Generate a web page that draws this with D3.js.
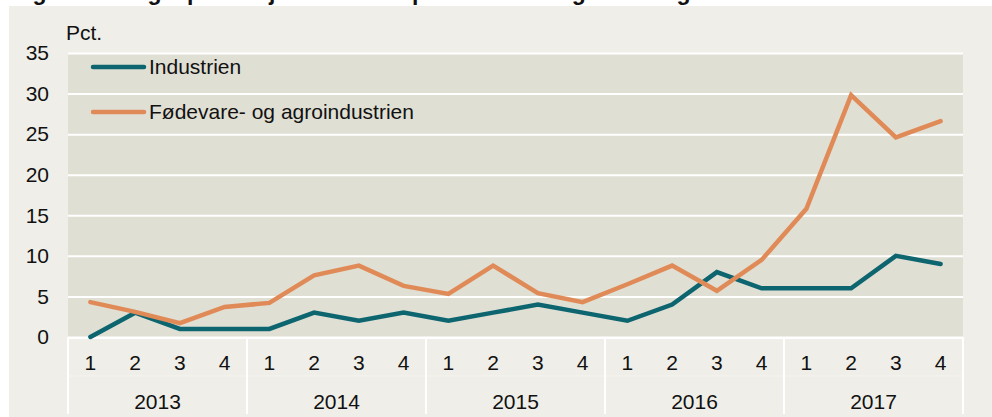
<!DOCTYPE html>
<html>
<head>
<meta charset="utf-8">
<script src="https://cdn.jsdelivr.net/npm/d3@7"></script>
<style>
body{margin:0;background:#fff;}
svg{display:block;font-family:"Liberation Sans",Arial,sans-serif;}
</style>
</head>
<body>
<div id="chart"></div>
<script>
// data
var years = ["2013","2014","2015","2016","2017"];
var quarters = ["1","2","3","4"];
var industrien = [0,3,1,1, 1,3,2,3, 2,3,4,3, 2,4,8,6, 6,6,10,9];
var foedevare = [4.3,3.1,1.7,3.7, 4.2,7.6,8.8,6.3, 5.3,8.8,5.4,4.3, 6.5,8.8,5.7,9.5, 15.8,29.8,24.6,26.6];
var yTicks = [0,5,10,15,20,25,30,35];
var seriesNames = ["Industrien","Fødevare- og agroindustrien"];
var colors = ["#0d6570","#e08a57"];

var W = 992, H = 417;
var m = {left:68, right:29, top:53, bottom:80};
var pw = W - m.left - m.right, ph = H - m.top - m.bottom;
var fs = "21px";

var periods = [];
years.forEach(y => quarters.forEach(q => periods.push(y + "-" + q)));

var x = d3.scaleBand().domain(periods).range([0,pw]);
var xYear = d3.scaleBand().domain(years).range([0,pw]);
var y = d3.scaleLinear().domain([0,35]).range([ph,0]);

var svg = d3.select("#chart").append("svg")
    .attr("width",W).attr("height",H);

// panel
svg.append("rect").attr("x",9).attr("y",6).attr("width",W-9).attr("height",H-6)
    .attr("fill","#efeee8");

// title, cut off at the top as in the source
svg.append("text").attr("x",12).attr("y",0)
    .style("font-size","23px").style("font-weight","bold").attr("fill","#111")
    .text("Figur 2. Mangel på arbejdskraft som produktionsbegrænsning");

var g = svg.append("g").attr("transform","translate(" + m.left + "," + m.top + ")");

g.append("rect").attr("width",pw).attr("height",ph).attr("fill","#e0dfd4");

// grid
g.append("g")
    .call(d3.axisLeft(y).tickValues(yTicks).tickSize(-pw).tickFormat(""))
    .call(a => a.select(".domain").remove())
    .selectAll("line").attr("stroke","#fff").attr("stroke-width",2);

// y labels
g.append("g")
    .call(d3.axisLeft(y).tickValues(yTicks).tickSize(0).tickPadding(19))
    .call(a => a.select(".domain").remove())
    .selectAll("text")
    .style("font-size",fs).style("font-family","Liberation Sans, Arial").attr("fill","#111");

svg.append("text").attr("x",66).attr("y",40)
    .style("font-size",fs).attr("fill","#111").text("Pct.");

// category axis
var xa = g.append("g").attr("transform","translate(0," + ph + ")");
xa.append("line").attr("x1",0).attr("x2",pw).attr("y1",1).attr("y2",1)
    .attr("stroke","#fff").attr("stroke-width",2);
xa.append("line").attr("x1",0).attr("x2",pw).attr("y1",39).attr("y2",39)
    .attr("stroke","#f5f4ef").attr("stroke-width",1);
xa.selectAll(".sep").data(years.concat(["end"])).enter().append("line")
    .attr("x1",(d,i) => i < years.length ? xYear(d) : pw)
    .attr("x2",(d,i) => i < years.length ? xYear(d) : pw)
    .attr("y1",0).attr("y2",77)
    .attr("stroke","#fff").attr("stroke-width",2);
xa.selectAll(".q").data(periods).enter().append("text")
    .attr("x",d => x(d) + x.bandwidth()/2).attr("y",33)
    .attr("text-anchor","middle").style("font-size",fs).attr("fill","#111")
    .text(d => d.split("-")[1]);
xa.selectAll(".yr").data(years).enter().append("text")
    .attr("x",d => xYear(d) + xYear.bandwidth()/2).attr("y",72)
    .attr("text-anchor","middle").style("font-size",fs).attr("fill","#111")
    .text(d => d);

// lines
var line = d3.line()
    .x((d,i) => x(periods[i]) + x.bandwidth()/2)
    .y(d => y(d));

[industrien, foedevare].forEach((s,k) => {
    g.append("path").datum(s)
        .attr("d",line).attr("fill","none")
        .attr("stroke",colors[k]).attr("stroke-width",4.5)
        .attr("stroke-linecap","round").attr("stroke-linejoin","miter");
});

// legend
seriesNames.forEach((n,k) => {
    var ly = 67 + k*45;
    svg.append("line").attr("x1",93).attr("x2",144).attr("y1",ly).attr("y2",ly)
        .attr("stroke",colors[k]).attr("stroke-width",4.5).attr("stroke-linecap","round");
    svg.append("text").attr("x",149).attr("y",ly + 7)
        .style("font-size",fs).attr("fill","#111").text(n);
});
</script>
</body>
</html>
